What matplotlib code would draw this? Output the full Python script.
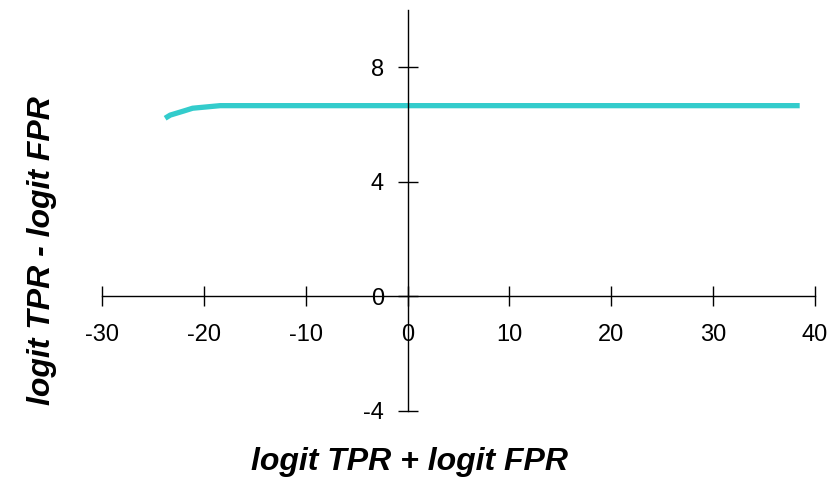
import matplotlib.pyplot as plt

plt.rcParams['font.family'] = ['Liberation Sans', 'DejaVu Sans']
plt.rcParams['axes.unicode_minus'] = False

# curve
x_sum = [-23.8, -23.3, -22.0, -21.1, -19.9, -18.4, 38.5]
y_diff = [6.22, 6.33, 6.47, 6.57, 6.61, 6.66, 6.66]

x_ticks = [-30, -20, -10, 0, 10, 20, 30, 40]
y_ticks = [-4, 0, 4, 8]

fig = plt.figure(figsize=(8.4, 4.8), dpi=100)
ax = fig.add_axes([0.1214, 0.1438, 0.8488, 0.8354])

ax.plot(x_sum, y_diff, color='#33CCCC', linewidth=3.8, solid_capstyle='butt')

ax.set_xlim(-30, 40)
ax.set_ylim(-4, 10)

# axes crossing at the origin
ax.spines['left'].set_position(('data', 0))
ax.spines['bottom'].set_position(('data', 0))
ax.spines['top'].set_visible(False)
ax.spines['right'].set_visible(False)
for s in ('left', 'bottom'):
    ax.spines[s].set_linewidth(1.0)

ax.set_xticks(x_ticks)
ax.set_yticks(y_ticks)
ax.tick_params(axis='x', direction='inout', length=14, width=1.0, pad=13, labelsize=17)
ax.tick_params(axis='y', direction='inout', length=14, width=1.0, pad=10, labelsize=17)

fig.text(0.488, 0.0375, 'logit TPR + logit FPR', ha='center', va='center',
         fontsize=23, fontweight='bold', fontstyle='italic')
fig.text(0.05, 0.478, 'logit TPR - logit FPR', ha='center', va='center',
         rotation=90, fontsize=23, fontweight='bold', fontstyle='italic')

fig.savefig('out.png', dpi=100)
